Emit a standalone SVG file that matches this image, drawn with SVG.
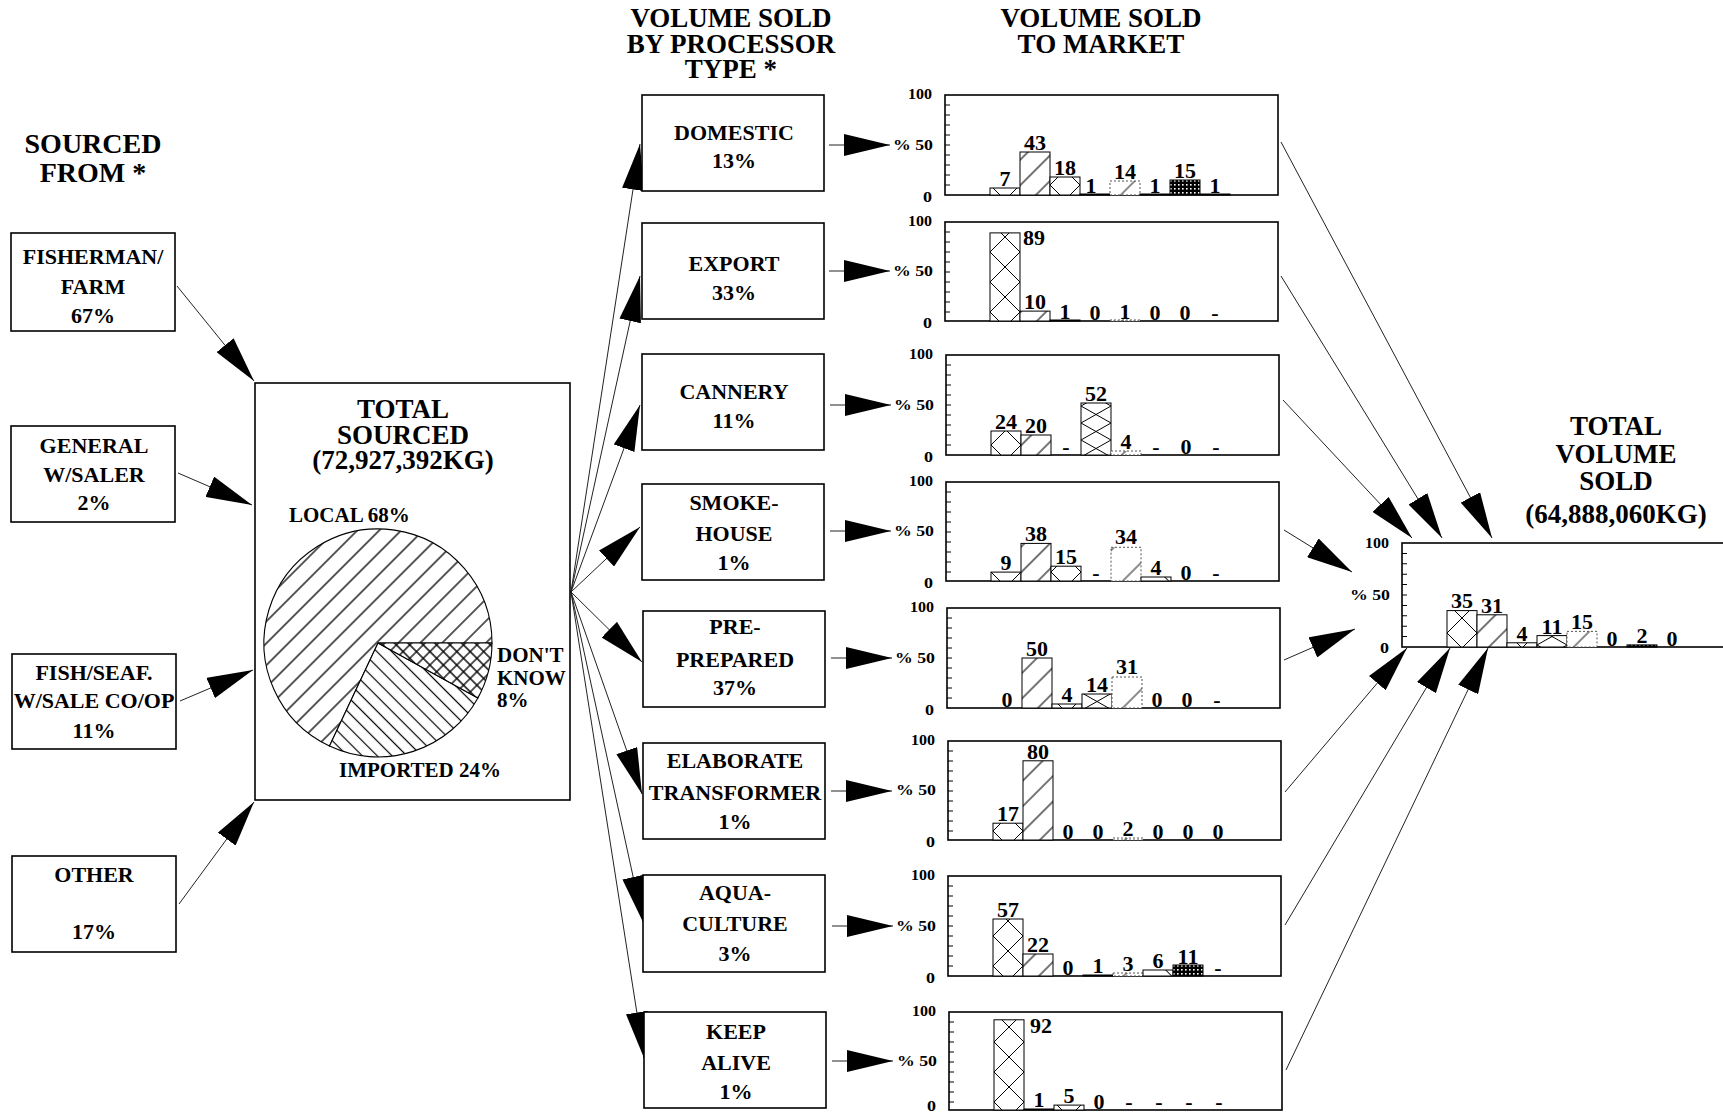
<svg xmlns="http://www.w3.org/2000/svg" width="1723" height="1112" viewBox="0 0 1723 1112">
<style>
  text { font-family: "Liberation Serif", "Times New Roman", serif; font-weight: bold; fill: #000; }
  .h { font-size: 27px; text-anchor: middle; }
  .h28 { font-size: 28px; text-anchor: middle; }
  .b { font-size: 22px; text-anchor: middle; }
  .n { font-size: 22px; text-anchor: middle; }
  .ns { font-size: 22px; }
  .pl { font-size: 21px; }
  .ax { font-size: 14px; }
  .box { fill: #fff; stroke: #000; stroke-width: 1.6; }
  .frame { fill: none; stroke: #000; stroke-width: 1.6; }
  .bar { stroke: #000; stroke-width: 1; }
  .dot { stroke: #555; stroke-dasharray: 2 2; }
  .tick { stroke: #000; stroke-width: 1; fill: none; }
  .ln { stroke: #222; stroke-width: 1; fill: none; marker-end: url(#head); }
  .slice { stroke: #000; stroke-width: 1.1; }
  .s1, .s3 { fill: url(#pX); }
  .s2 { fill: url(#pSl); }
  .s4 { fill: url(#pXf); }
  .s5 { fill: url(#pSp); }
  .s6 { fill: url(#pBk); }
  .s7 { fill: url(#pDt); }
  .s8 { fill: #fff; }
</style>
<defs>
  <marker id="head" viewBox="0 0 46 22" refX="46" refY="11" markerWidth="46" markerHeight="22" markerUnits="userSpaceOnUse" orient="auto">
    <path d="M0,0 L46,11 L0,22 Z" fill="#000"/>
  </marker>
  <!-- pie fills -->
  <pattern id="pLocal" width="15.5" height="10" patternUnits="userSpaceOnUse" patternTransform="rotate(45)">
    <rect width="15.5" height="10" fill="#fff"/><line x1="7.75" y1="0" x2="7.75" y2="10" stroke="#000" stroke-width="1.3"/>
  </pattern>
  <pattern id="pImp" width="10.5" height="10" patternUnits="userSpaceOnUse" patternTransform="rotate(-45)">
    <rect width="10.5" height="10" fill="#fff"/><line x1="5.25" y1="0" x2="5.25" y2="10" stroke="#000" stroke-width="1.2"/>
  </pattern>
  <pattern id="pDK" width="9.5" height="9.5" patternUnits="userSpaceOnUse" patternTransform="rotate(45)">
    <rect width="9.5" height="9.5" fill="#fff"/><path d="M4.75,0 V9.5 M0,4.75 H9.5" stroke="#000" stroke-width="1.3"/>
  </pattern>
  <!-- bar fills -->
  <pattern id="pX" x="15" y="0" width="30" height="30" patternUnits="userSpaceOnUse">
    <rect width="30" height="30" fill="#fff"/><path d="M-2,-2 L32,32 M32,-2 L-2,32" stroke="#000" stroke-width="1"/>
  </pattern>
  <pattern id="pXf" x="15" y="0" width="30" height="17" patternUnits="userSpaceOnUse">
    <rect width="30" height="17" fill="#fff"/><path d="M-3,-1.7 L33,18.7 M33,-1.7 L-3,18.7" stroke="#000" stroke-width="1"/>
  </pattern>
  <pattern id="pSl" width="18" height="10" patternUnits="userSpaceOnUse" patternTransform="rotate(45)">
    <rect width="18" height="10" fill="#fff"/><line x1="9" y1="0" x2="9" y2="10" stroke="#000" stroke-width="1.1"/>
  </pattern>
  <pattern id="pSp" width="30" height="10" patternUnits="userSpaceOnUse" patternTransform="rotate(45)">
    <rect width="30" height="10" fill="#fff"/><line x1="15" y1="0" x2="15" y2="10" stroke="#000" stroke-width="0.9"/>
  </pattern>
  <pattern id="pBk" width="25" height="10" patternUnits="userSpaceOnUse" patternTransform="rotate(-45)">
    <rect width="25" height="10" fill="#fff"/><line x1="12.5" y1="0" x2="12.5" y2="10" stroke="#000" stroke-width="0.9"/>
  </pattern>
  <pattern id="pDt" width="4" height="4" patternUnits="userSpaceOnUse">
    <rect width="4" height="4" fill="#000"/><rect x="1" y="1" width="1.6" height="1.6" fill="#fff"/>
  </pattern>
  <path id="ticks" d="M0,10h5M0,20h5M0,30h5M0,40h5M0,50h5M0,60h5M0,70h5M0,80h5M0,90h5"/>
</defs>

<rect width="1723" height="1112" fill="#fff"/>

<!-- column headings -->
<g id="headings">
  <text class="h28" x="93" y="153">SOURCED</text>
  <text class="h28" x="93" y="182">FROM *</text>
  <text class="h" x="731" y="27">VOLUME SOLD</text>
  <text class="h" x="731" y="53">BY PROCESSOR</text>
  <text class="h" x="731" y="78">TYPE *</text>
  <text class="h" x="1101" y="27">VOLUME SOLD</text>
  <text class="h" x="1101" y="53">TO MARKET</text>
</g>

<!-- connectors -->
<g id="connectors">
  <path class="ln" d="M177,286 L254,381"/>
  <path class="ln" d="M178,473 L252,505"/>
  <path class="ln" d="M180,701 L253,670"/>
  <path class="ln" d="M179,904 L254,802"/>

  <path class="ln" d="M571,592 L640,144"/>
  <path class="ln" d="M571,592 L640,276"/>
  <path class="ln" d="M571,592 L640,405"/>
  <path class="ln" d="M571,592 L640,527"/>
  <path class="ln" d="M571,592 L642,662"/>
  <path class="ln" d="M571,592 L642,794"/>
  <path class="ln" d="M571,592 L643,922"/>
  <path class="ln" d="M571,592 L644,1058"/>

  <path class="ln" d="M829,145 L890,145"/>
  <path class="ln" d="M829,271 L890,271"/>
  <path class="ln" d="M830,405 L891,405"/>
  <path class="ln" d="M830,531 L891,531"/>
  <path class="ln" d="M831,658 L892,658"/>
  <path class="ln" d="M831,791 L892,791"/>
  <path class="ln" d="M832,926 L893,926"/>
  <path class="ln" d="M832,1061 L893,1061"/>

  <path class="ln" d="M1281,142 L1492,538"/>
  <path class="ln" d="M1281,276 L1442,538"/>
  <path class="ln" d="M1283,400 L1412,538"/>
  <path class="ln" d="M1284,530 L1352,572"/>
  <path class="ln" d="M1284,660 L1355,629"/>
  <path class="ln" d="M1285,792 L1407,648"/>
  <path class="ln" d="M1285,925 L1450,648"/>
  <path class="ln" d="M1286,1070 L1488,648"/>
</g>

<!-- sources -->
<g id="src-fisherman">
  <rect class="box" x="11" y="233" width="164" height="98"/>
  <text class="b" x="93" y="264">FISHERMAN/</text>
  <text class="b" x="93" y="294">FARM</text>
  <text class="b" x="93" y="323">67%</text>
</g>
<g id="src-general">
  <rect class="box" x="11" y="426" width="164" height="96"/>
  <text class="b" x="94" y="453">GENERAL</text>
  <text class="b" x="94" y="482">W/SALER</text>
  <text class="b" x="94" y="510">2%</text>
</g>
<g id="src-coop">
  <rect class="box" x="12" y="654" width="164" height="95"/>
  <text class="b" x="94" y="680">FISH/SEAF.</text>
  <text class="b" x="94" y="708">W/SALE CO/OP</text>
  <text class="b" x="94" y="738">11%</text>
</g>
<g id="src-other">
  <rect class="box" x="12" y="856" width="164" height="96"/>
  <text class="b" x="94" y="882">OTHER</text>
  <text class="b" x="94" y="939">17%</text>
</g>

<!-- total sourced with pie -->
<g id="total-sourced">
  <rect class="box" x="255" y="383" width="315" height="417"/>
  <text class="h" x="403" y="418">TOTAL</text>
  <text class="h" x="403" y="444">SOURCED</text>
  <text class="h" x="403" y="469">(72,927,392KG)</text>
  <path class="slice" fill="url(#pLocal)" d="M378,643 L329.5,746.1 A114,114 0 1,1 492,643 Z"/>
  <path class="slice" fill="url(#pImp)" d="M378,643 L477.9,697.9 A114,114 0 0,1 329.5,746.1 Z"/>
  <path class="slice" fill="url(#pDK)" d="M378,643 L492,643 A114,114 0 0,1 477.9,697.9 Z"/>
  <text class="pl" x="289" y="522">LOCAL 68%</text>
  <text class="pl" x="497" y="662">DON'T</text>
  <text class="pl" x="497" y="685">KNOW</text>
  <text class="pl" x="497" y="707">8%</text>
  <text class="pl" x="420" y="777" text-anchor="middle">IMPORTED 24%</text>
</g>

<!-- processor types -->
<g id="proc-domestic">
  <rect class="box" x="642" y="95" width="182" height="96"/>
  <text class="b" x="734" y="140">DOMESTIC</text>
  <text class="b" x="734" y="168">13%</text>
</g>
<g id="proc-export">
  <rect class="box" x="642" y="223" width="182" height="96"/>
  <text class="b" x="734" y="271">EXPORT</text>
  <text class="b" x="734" y="300">33%</text>
</g>
<g id="proc-cannery">
  <rect class="box" x="642" y="354" width="182" height="96"/>
  <text class="b" x="734" y="399">CANNERY</text>
  <text class="b" x="734" y="428">11%</text>
</g>
<g id="proc-smokehouse">
  <rect class="box" x="642" y="484" width="182" height="96"/>
  <text class="b" x="734" y="510">SMOKE-</text>
  <text class="b" x="734" y="541">HOUSE</text>
  <text class="b" x="734" y="570">1%</text>
</g>
<g id="proc-preprepared">
  <rect class="box" x="643" y="611" width="182" height="96"/>
  <text class="b" x="735" y="634">PRE-</text>
  <text class="b" x="735" y="667">PREPARED</text>
  <text class="b" x="735" y="695">37%</text>
</g>
<g id="proc-elaborate">
  <rect class="box" x="643" y="743" width="182" height="96"/>
  <text class="b" x="735" y="768">ELABORATE</text>
  <text class="b" x="735" y="800">TRANSFORMER</text>
  <text class="b" x="735" y="829">1%</text>
</g>
<g id="proc-aquaculture">
  <rect class="box" x="643" y="875" width="182" height="97"/>
  <text class="b" x="735" y="900">AQUA-</text>
  <text class="b" x="735" y="931">CULTURE</text>
  <text class="b" x="735" y="961">3%</text>
</g>
<g id="proc-keepalive">
  <rect class="box" x="644" y="1012" width="182" height="96"/>
  <text class="b" x="736" y="1039">KEEP</text>
  <text class="b" x="736" y="1070">ALIVE</text>
  <text class="b" x="736" y="1099">1%</text>
</g>

<!-- market bar charts: local origin at chart top-left, slots 30 wide from x=45 -->
<g id="market-domestic" transform="translate(945,95)">
  <rect class="frame" width="333" height="100"/>
  <use href="#ticks" class="tick"/>
  <text class="ax" x="-37" y="4" textLength="24" lengthAdjust="spacingAndGlyphs">100</text>
  <text class="ax" x="-52" y="55" textLength="40" lengthAdjust="spacingAndGlyphs">% 50</text>
  <text class="ax" x="-22" y="107" textLength="9" lengthAdjust="spacingAndGlyphs">0</text>
  <rect class="bar s1" x="45" y="93" width="30" height="7"/>
  <rect class="bar s2" x="75" y="57" width="30" height="43"/>
  <rect class="bar s3" x="105" y="82" width="30" height="18"/>
  <rect class="bar s4" x="135" y="99" width="30" height="1"/>
  <rect class="bar s5 dot" x="165" y="86" width="30" height="14"/>
  <rect class="bar s6" x="195" y="99" width="30" height="1"/>
  <rect class="bar s7" x="225" y="85" width="30" height="15"/>
  <rect class="bar s8" x="255" y="99" width="30" height="1"/>
  <text class="n" x="60" y="91">7</text>
  <text class="n" x="90" y="55">43</text>
  <text class="n" x="120" y="80">18</text>
  <text class="n" x="146" y="98">1</text>
  <text class="n" x="180" y="84">14</text>
  <text class="n" x="210" y="98">1</text>
  <text class="n" x="240" y="83">15</text>
  <text class="n" x="270" y="98">1</text>
</g>

<g id="market-export" transform="translate(945,222)">
  <rect class="frame" width="333" height="99"/>
  <use href="#ticks" class="tick"/>
  <text class="ax" x="-37" y="4" textLength="24" lengthAdjust="spacingAndGlyphs">100</text>
  <text class="ax" x="-52" y="54" textLength="40" lengthAdjust="spacingAndGlyphs">% 50</text>
  <text class="ax" x="-22" y="106" textLength="9" lengthAdjust="spacingAndGlyphs">0</text>
  <rect class="bar s1" x="45" y="10.9" width="30" height="88.1"/>
  <rect class="bar s2" x="75" y="89.1" width="30" height="9.9"/>
  <rect class="bar s3" x="105" y="98" width="30" height="1"/>
  <rect class="bar s5 dot" x="165" y="98" width="30" height="1"/>
  <text class="ns" x="78" y="23">89</text>
  <text class="n" x="90" y="87">10</text>
  <text class="n" x="120" y="97">1</text>
  <text class="n" x="150" y="98">0</text>
  <text class="n" x="180" y="97">1</text>
  <text class="n" x="210" y="98">0</text>
  <text class="n" x="240" y="98">0</text>
  <text class="n" x="270" y="98">-</text>
</g>

<g id="market-cannery" transform="translate(946,355)">
  <rect class="frame" width="333" height="100"/>
  <use href="#ticks" class="tick"/>
  <text class="ax" x="-37" y="4" textLength="24" lengthAdjust="spacingAndGlyphs">100</text>
  <text class="ax" x="-52" y="55" textLength="40" lengthAdjust="spacingAndGlyphs">% 50</text>
  <text class="ax" x="-22" y="107" textLength="9" lengthAdjust="spacingAndGlyphs">0</text>
  <rect class="bar s1" x="45" y="76" width="30" height="24"/>
  <rect class="bar s2" x="75" y="80" width="30" height="20"/>
  <rect class="bar s4" x="135" y="48" width="30" height="52"/>
  <rect class="bar s5 dot" x="165" y="96" width="30" height="4"/>
  <text class="n" x="60" y="74">24</text>
  <text class="n" x="90" y="78">20</text>
  <text class="n" x="120" y="99">-</text>
  <text class="n" x="150" y="46">52</text>
  <text class="n" x="180" y="94">4</text>
  <text class="n" x="210" y="99">-</text>
  <text class="n" x="240" y="99">0</text>
  <text class="n" x="270" y="99">-</text>
</g>

<g id="market-smokehouse" transform="translate(946,482)">
  <rect class="frame" width="333" height="99"/>
  <use href="#ticks" class="tick"/>
  <text class="ax" x="-37" y="4" textLength="24" lengthAdjust="spacingAndGlyphs">100</text>
  <text class="ax" x="-52" y="54" textLength="40" lengthAdjust="spacingAndGlyphs">% 50</text>
  <text class="ax" x="-22" y="106" textLength="9" lengthAdjust="spacingAndGlyphs">0</text>
  <rect class="bar s1" x="45" y="90.1" width="30" height="8.9"/>
  <rect class="bar s2" x="75" y="61.4" width="30" height="37.6"/>
  <rect class="bar s3" x="105" y="84.2" width="30" height="14.8"/>
  <rect class="bar s5 dot" x="165" y="65.3" width="30" height="33.7"/>
  <rect class="bar s6" x="195" y="95" width="30" height="4"/>
  <text class="n" x="60" y="88">9</text>
  <text class="n" x="90" y="59">38</text>
  <text class="n" x="120" y="82">15</text>
  <text class="n" x="150" y="98">-</text>
  <text class="n" x="180" y="62">34</text>
  <text class="n" x="210" y="93">4</text>
  <text class="n" x="240" y="98">0</text>
  <text class="n" x="270" y="98">-</text>
</g>

<g id="market-preprepared" transform="translate(947,608)">
  <rect class="frame" width="333" height="100"/>
  <use href="#ticks" class="tick"/>
  <text class="ax" x="-37" y="4" textLength="24" lengthAdjust="spacingAndGlyphs">100</text>
  <text class="ax" x="-52" y="55" textLength="40" lengthAdjust="spacingAndGlyphs">% 50</text>
  <text class="ax" x="-22" y="107" textLength="9" lengthAdjust="spacingAndGlyphs">0</text>
  <rect class="bar s2" x="75" y="50" width="30" height="50"/>
  <rect class="bar s3" x="105" y="96" width="30" height="4"/>
  <rect class="bar s4" x="135" y="86" width="30" height="14"/>
  <rect class="bar s5 dot" x="165" y="69" width="30" height="31"/>
  <text class="n" x="60" y="99">0</text>
  <text class="n" x="90" y="48">50</text>
  <text class="n" x="120" y="94">4</text>
  <text class="n" x="150" y="84">14</text>
  <text class="n" x="180" y="66">31</text>
  <text class="n" x="210" y="99">0</text>
  <text class="n" x="240" y="99">0</text>
  <text class="n" x="270" y="99">-</text>
</g>

<g id="market-elaborate" transform="translate(948,741)">
  <rect class="frame" width="333" height="99"/>
  <use href="#ticks" class="tick"/>
  <text class="ax" x="-37" y="4" textLength="24" lengthAdjust="spacingAndGlyphs">100</text>
  <text class="ax" x="-52" y="54" textLength="40" lengthAdjust="spacingAndGlyphs">% 50</text>
  <text class="ax" x="-22" y="106" textLength="9" lengthAdjust="spacingAndGlyphs">0</text>
  <rect class="bar s1" x="45" y="82.2" width="30" height="16.8"/>
  <rect class="bar s2" x="75" y="19.8" width="30" height="79.2"/>
  <rect class="bar s5 dot" x="165" y="97" width="30" height="2"/>
  <text class="n" x="60" y="80">17</text>
  <text class="n" x="90" y="18">80</text>
  <text class="n" x="120" y="98">0</text>
  <text class="n" x="150" y="98">0</text>
  <text class="n" x="180" y="95">2</text>
  <text class="n" x="210" y="98">0</text>
  <text class="n" x="240" y="98">0</text>
  <text class="n" x="270" y="98">0</text>
</g>

<g id="market-aquaculture" transform="translate(948,876)">
  <rect class="frame" width="333" height="100"/>
  <use href="#ticks" class="tick"/>
  <text class="ax" x="-37" y="4" textLength="24" lengthAdjust="spacingAndGlyphs">100</text>
  <text class="ax" x="-52" y="55" textLength="40" lengthAdjust="spacingAndGlyphs">% 50</text>
  <text class="ax" x="-22" y="107" textLength="9" lengthAdjust="spacingAndGlyphs">0</text>
  <rect class="bar s1" x="45" y="43" width="30" height="57"/>
  <rect class="bar s2" x="75" y="78" width="30" height="22"/>
  <rect class="bar s4" x="135" y="99" width="30" height="1"/>
  <rect class="bar s5 dot" x="165" y="97" width="30" height="3"/>
  <rect class="bar s6" x="195" y="94" width="30" height="6"/>
  <rect class="bar s7" x="225" y="89" width="30" height="11"/>
  <text class="n" x="60" y="41">57</text>
  <text class="n" x="90" y="76">22</text>
  <text class="n" x="120" y="99">0</text>
  <text class="n" x="150" y="97">1</text>
  <text class="n" x="180" y="95">3</text>
  <text class="n" x="210" y="92">6</text>
  <text class="n" x="240" y="88">11</text>
  <text class="n" x="270" y="99">-</text>
</g>

<g id="market-keepalive" transform="translate(949,1012)">
  <rect class="frame" width="333" height="98"/>
  <use href="#ticks" class="tick"/>
  <text class="ax" x="-37" y="4" textLength="24" lengthAdjust="spacingAndGlyphs">100</text>
  <text class="ax" x="-52" y="54" textLength="40" lengthAdjust="spacingAndGlyphs">% 50</text>
  <text class="ax" x="-22" y="99" textLength="9" lengthAdjust="spacingAndGlyphs">0</text>
  <rect class="bar s1" x="45" y="7.8" width="30" height="90.2"/>
  <rect class="bar s2" x="75" y="97" width="30" height="1"/>
  <rect class="bar s3" x="105" y="93.1" width="30" height="4.9"/>
  <text class="ns" x="81" y="21">92</text>
  <text class="n" x="90" y="95">1</text>
  <text class="n" x="120" y="91">5</text>
  <text class="n" x="150" y="97">0</text>
  <text class="n" x="180" y="97">-</text>
  <text class="n" x="210" y="97">-</text>
  <text class="n" x="240" y="97">-</text>
  <text class="n" x="270" y="97">-</text>
</g>

<!-- total volume sold -->
<g id="total-volume">
  <text class="h" x="1616" y="435">TOTAL</text>
  <text class="h" x="1616" y="463">VOLUME</text>
  <text class="h" x="1616" y="490">SOLD</text>
  <text class="h" x="1616" y="523">(64,888,060KG)</text>
  <g transform="translate(1402,543)">
    <rect class="frame" width="340" height="104"/>
    <use href="#ticks" class="tick" transform="scale(1,1.04)"/>
    <text class="ax" x="-37" y="5" textLength="24" lengthAdjust="spacingAndGlyphs">100</text>
    <text class="ax" x="-52" y="57" textLength="40" lengthAdjust="spacingAndGlyphs">% 50</text>
    <text class="ax" x="-22" y="110" textLength="9" lengthAdjust="spacingAndGlyphs">0</text>
    <rect class="bar s1" x="45" y="67.6" width="30" height="36.4"/>
    <rect class="bar s2" x="75" y="71.8" width="30" height="32.2"/>
    <rect class="bar s3" x="105" y="99.8" width="30" height="4.2"/>
    <rect class="bar s4" x="135" y="92.6" width="30" height="11.4"/>
    <rect class="bar s5 dot" x="165" y="88.4" width="30" height="15.6"/>
    <rect class="bar s7" x="225" y="101.9" width="30" height="2.1"/>
    <text class="n" x="60" y="65">35</text>
    <text class="n" x="90" y="70">31</text>
    <text class="n" x="120" y="98">4</text>
    <text class="n" x="150" y="91">11</text>
    <text class="n" x="180" y="86">15</text>
    <text class="n" x="210" y="103">0</text>
    <text class="n" x="240" y="100">2</text>
    <text class="n" x="270" y="103">0</text>
  </g>
</g>
</svg>
